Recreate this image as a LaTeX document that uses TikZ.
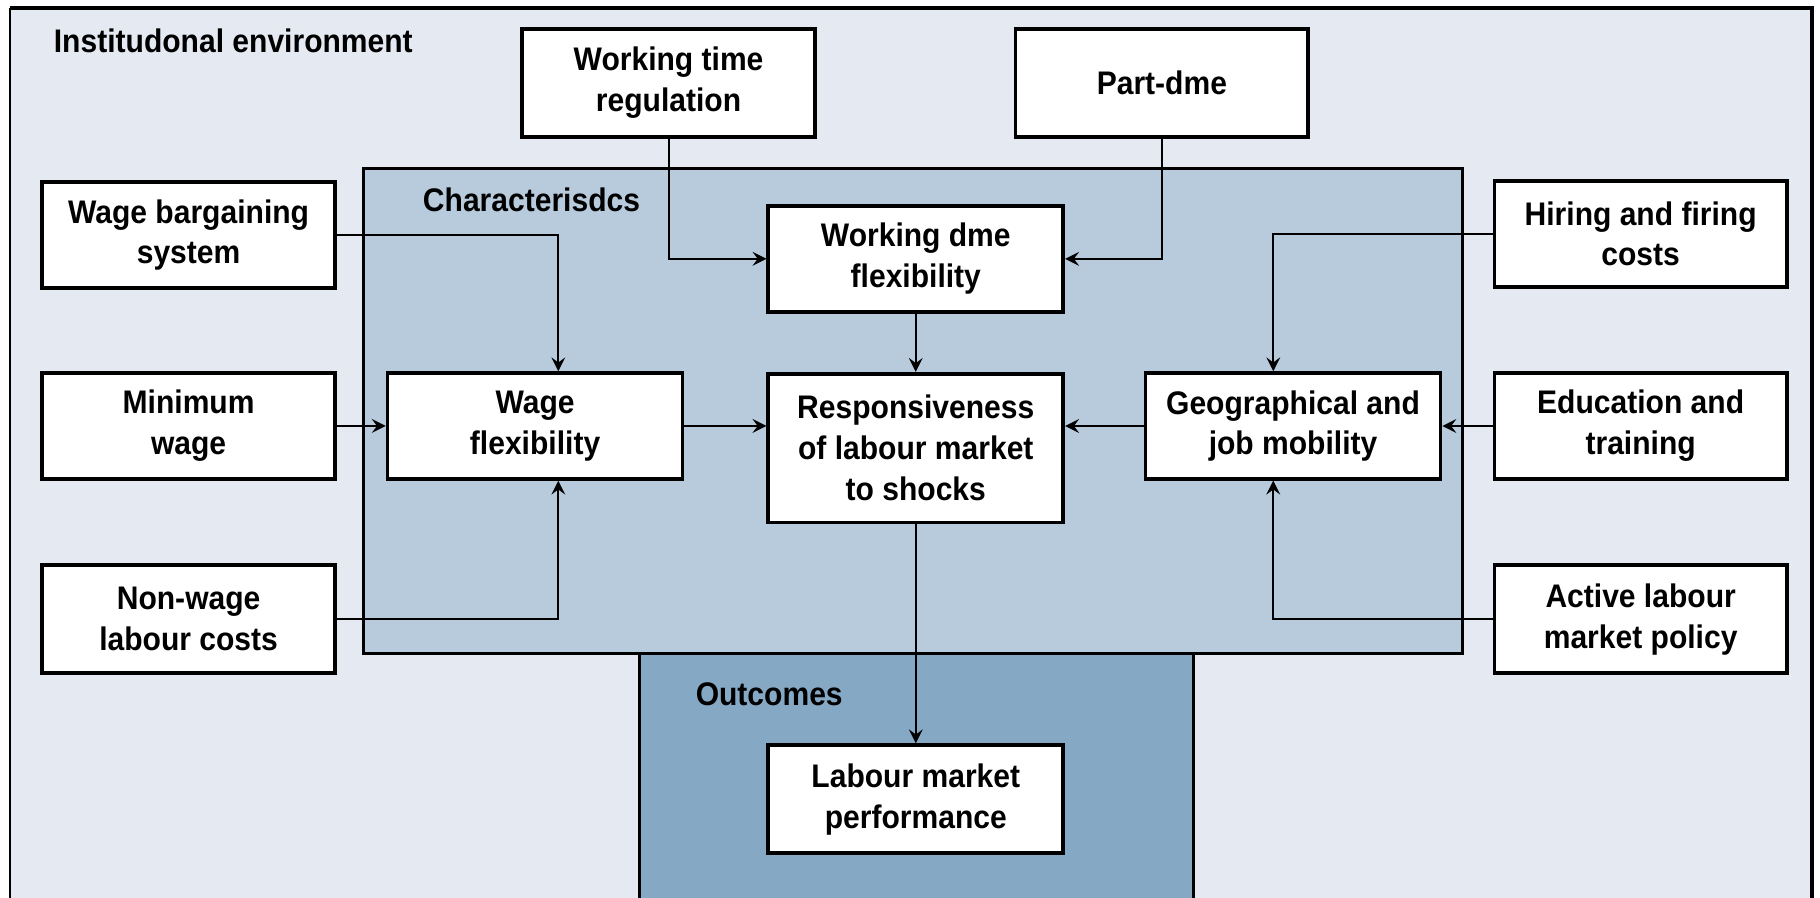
\documentclass[tikz,border=0pt]{standalone}
\usepackage{fontspec}
\setmainfont{Liberation Sans}[FakeStretch=0.92]
\usepackage{tikz}
\usetikzlibrary{positioning}

\definecolor{envbg}{HTML}{E5EAF2}
\definecolor{charbg}{HTML}{B8CBDC}
\definecolor{outbg}{HTML}{85A8C5}

\tikzset{
  factor/.style={draw, fill=white, line width=0.9pt, align=center,
    minimum width=2.52cm, minimum height=0.91cm, inner sep=1pt,
    font=\fontsize{8}{10}\selectfont\bfseries},
  conn/.style={-stealth, line width=0.5pt},
  areatitle/.style={anchor=west, font=\fontsize{8}{10}\selectfont\bfseries}
}

\begin{document}
\begin{tikzpicture}[x=0.01cm,y=-0.01cm]
\useasboundingbox (0,0) rectangle (1568,773);
\fill[white] (0,0) rectangle (1568,773);

% areas
\fill[envbg] (9,7) rectangle (1561,780);
\draw[line width=0.5pt] (9,780) -- (9,7);
\draw[line width=0.9pt] (9,7) -- (1561,7) -- (1561,780);
\draw[fill=outbg, line width=0.7pt] (551,780) -- (551,563) -- (1028,563) -- (1028,780);
\draw[fill=charbg, line width=0.7pt] (313,145) rectangle (1260,563);

\node[areatitle] (envtitle) at (34,35) {Institudonal environment};
\node[areatitle] (chartitle) at (352,172) {Characterisdcs};
\node[areatitle] (outtitle) at (587,598) {Outcomes};

% institutions
\node[factor, minimum height=0.93cm] (wtr) at (576,71.5) {Working time\\regulation};
\node[factor, minimum height=0.93cm] (pt) at (1001,71.5) {Part-dme};
\node[factor] (wbs) at (162.5,202.5) {Wage bargaining\\system};
\node[factor] (mw) at (162.5,367) {Minimum\\wage};
\node[factor, minimum height=0.93cm] (nwl) at (162.5,533.5) {Non-wage\\labour costs};
\node[factor] (hfc) at (1413.5,201.5) {Hiring and firing\\costs};
\node[factor] (edu) at (1413.5,367) {Education and\\training};
\node[factor, minimum height=0.93cm] (alm) at (1413.5,533.5) {Active labour\\market policy};

% characteristics
\node[factor, minimum width=2.54cm] (wtf) at (789,223) {Working dme\\flexibility};
\node[factor, minimum width=2.54cm] (wf) at (461,367) {Wage\\flexibility};
\node[factor, minimum width=2.54cm, minimum height=1.28cm] (resp) at (789,386) {Responsiveness\\of labour market\\to shocks};
\node[factor, minimum width=2.54cm] (geo) at (1114,367) {Geographical and\\job mobility};

% outcomes
\node[factor, minimum width=2.54cm, minimum height=0.93cm] (lmp) at (789,688.5) {Labour market\\performance};

% links
\draw[conn] (wbs.east) -| ([xshift=0.2cm]wf.north);
\draw[conn] (nwl.east) -| ([xshift=0.2cm]wf.south);
\draw[conn] (mw.east) -- (mw.east -| wf.west);
\draw[conn] (wf.east) -- (wf.east -| resp.west);
\draw[conn] (wtr.south) |- (wtf.west);
\draw[conn] (pt.south) |- (wtf.east);
\draw[conn] (wtf.south) -- (resp.north);
\draw[conn] (hfc.west) -| ([xshift=-0.17cm]geo.north);
\draw[conn] (alm.west) -| ([xshift=-0.17cm]geo.south);
\draw[conn] (edu.west) -- (edu.west -| geo.east);
\draw[conn] (geo.west) -- (geo.west -| resp.east);
\draw[conn] (resp.south) -- (lmp.north);
\end{tikzpicture}
\end{document}
